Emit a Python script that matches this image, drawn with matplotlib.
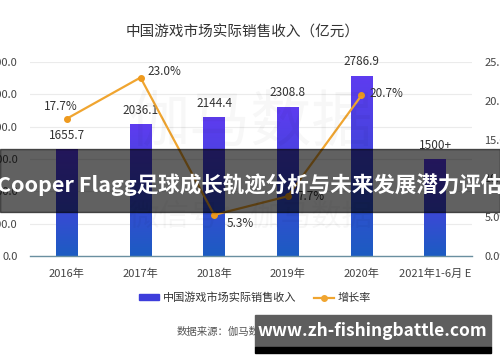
import numpy as np
import matplotlib
matplotlib.use("Agg")
import matplotlib.pyplot as plt
from matplotlib.colors import LinearSegmentedColormap
from matplotlib.patches import Rectangle

plt.rcParams['font.family'] = ['Noto Sans CJK SC', 'DejaVu Sans']

# data
years = ["2016年", "2017年", "2018年", "2019年", "2020年", "2021年1-6月 E"]
sales = [1655.7, 2036.1, 2144.4, 2308.8, 2786.9, 1500]
sales_lbl = ["1655.7", "2036.1", "2144.4", "2308.8", "2786.9", "1500+"]
growth = [17.7, 23.0, 5.3, 7.7, 20.7]
growth_lbl = ["17.7%", "23.0%", "5.3%", "7.7%", "20.7%"]
# label offsets (points) for the growth labels
growth_off = [(-4, 9), (17, 4), (19, -6), (17, 0), (18, 1)]

left_ticks = [0, 500, 1000, 1500, 2000, 2500, 3000]
right_ticks = [0, 5, 10, 15, 20, 25]

fig = plt.figure(figsize=(5, 3.62), dpi=100)
ax = fig.add_axes([0.06, 0.2928, 0.884, 0.5359])
x = np.arange(len(years))

bars = ax.bar(x, sales, width=0.29, color='none', zorder=2)
cmap = LinearSegmentedColormap.from_list('bar', ['#1c5cc2', '#3f46d8', '#5e3cf0'])
grad = np.linspace(0, 1, 256).reshape(-1, 1)
for b in bars:
    x0, y0, w, h = b.get_x(), b.get_y(), b.get_width(), b.get_height()
    im = ax.imshow(grad, extent=[x0, x0 + w, y0, y0 + h], origin='lower',
                   cmap=cmap, aspect='auto', zorder=2)
    im.set_clip_path(b)

for xi, v, s in zip(x, sales, sales_lbl):
    ax.annotate(s, (xi, v), xytext=(0, 10), textcoords='offset points',
                ha='center', va='center', fontsize=8.5, color='#333333')

ax.set_xlim(-0.5, 5.5)
ax.set_ylim(0, 3000)
ax.set_yticks(left_ticks)
ax.set_yticklabels([f"{t:.1f}" for t in left_ticks])
ax.set_xticks(x)
ax.set_xticklabels(years)
ax.tick_params(axis='both', length=0, labelsize=8, colors='#444444')
ax.tick_params(axis='y', pad=9)
ax.tick_params(axis='x', pad=9)
ax.yaxis.grid(True, color='#ebebeb', lw=0.8)
ax.set_axisbelow(True)
for sp in ['top', 'left', 'right']:
    ax.spines[sp].set_visible(False)
ax.spines['bottom'].set_color('#6a8fa0')
ax.spines['bottom'].set_linewidth(1)

ax2 = ax.twinx()
ax2.plot(x[:len(growth)], growth, color='#f0a530', lw=1.6, marker='o',
         markersize=4, markerfacecolor='#ee9a1e', markeredgecolor='#ee9a1e', zorder=3)
for xi, g, s, off in zip(x, growth, growth_lbl, growth_off):
    ax2.annotate(s, (xi, g), xytext=off, textcoords='offset points',
                 ha='center', va='center', fontsize=8.5, color='#333333')
ax2.set_ylim(0, 25)
ax2.set_yticks(right_ticks)
ax2.set_yticklabels([f"{t:.1f}%" for t in right_ticks])
ax2.tick_params(axis='y', length=0, labelsize=8, colors='#444444', pad=9)
for sp in ax2.spines.values():
    sp.set_visible(False)

# faint background watermark
fig.text(0.5, 0.66, "伽马数据", fontsize=44, color='#000000', alpha=0.03,
         ha='center', va='center')
fig.text(0.5, 0.40, "微信号：伽马数据", fontsize=22, color='#000000', alpha=0.03,
         ha='center', va='center')

fig.text(0.486, 0.909, "中国游戏市场实际销售收入（亿元）", fontsize=10.5,
         color='#333333', ha='center', va='center')

# legend
h_bar = Rectangle((0, 0), 1, 1, color='#3d3ddb')
h_line, = ax.plot([], [], color='#f0a530', lw=1.6, marker='o', markersize=4)
fig.legend([h_bar, h_line], ["中国游戏市场实际销售收入", "增长率"],
           loc='center', bbox_to_anchor=(0.51, 0.177), ncol=2, frameon=False,
           fontsize=8, handlelength=1.8, handleheight=0.45, columnspacing=1.6,
           handletextpad=0.3, labelcolor='#333333')

fig.text(0.354, 0.083, "数据来源：伽马数据（CNG）", fontsize=7.5,
         color='#555555', ha='left', va='center')

# overlay banner
fig.patches.append(Rectangle((0, 0.4144), 1, 0.174, transform=fig.transFigure,
                             color='#000000', alpha=0.62, zorder=5))
fig.text(0.5, 0.49, "Cooper Flagg足球成长轨迹分析与未来发展潜力评估", fontsize=15.5,
         fontweight='bold', color='white', ha='center', va='center', zorder=6)

# site watermark box
fig.patches.append(Rectangle((0.51, 0.0414), 0.472, 0.0884, transform=fig.transFigure,
                             color='#5e5e5e', zorder=5))
fig.patches.append(Rectangle((0.51, 0.0249), 0.472, 0.0165, transform=fig.transFigure,
                             color='#000000', zorder=5))
fig.text(0.745, 0.0856, "www.zh-fishingbattle.com", fontsize=12.5, fontweight='bold',
         color='white', ha='center', va='center', zorder=6)

fig.savefig("out.png", dpi=100)
